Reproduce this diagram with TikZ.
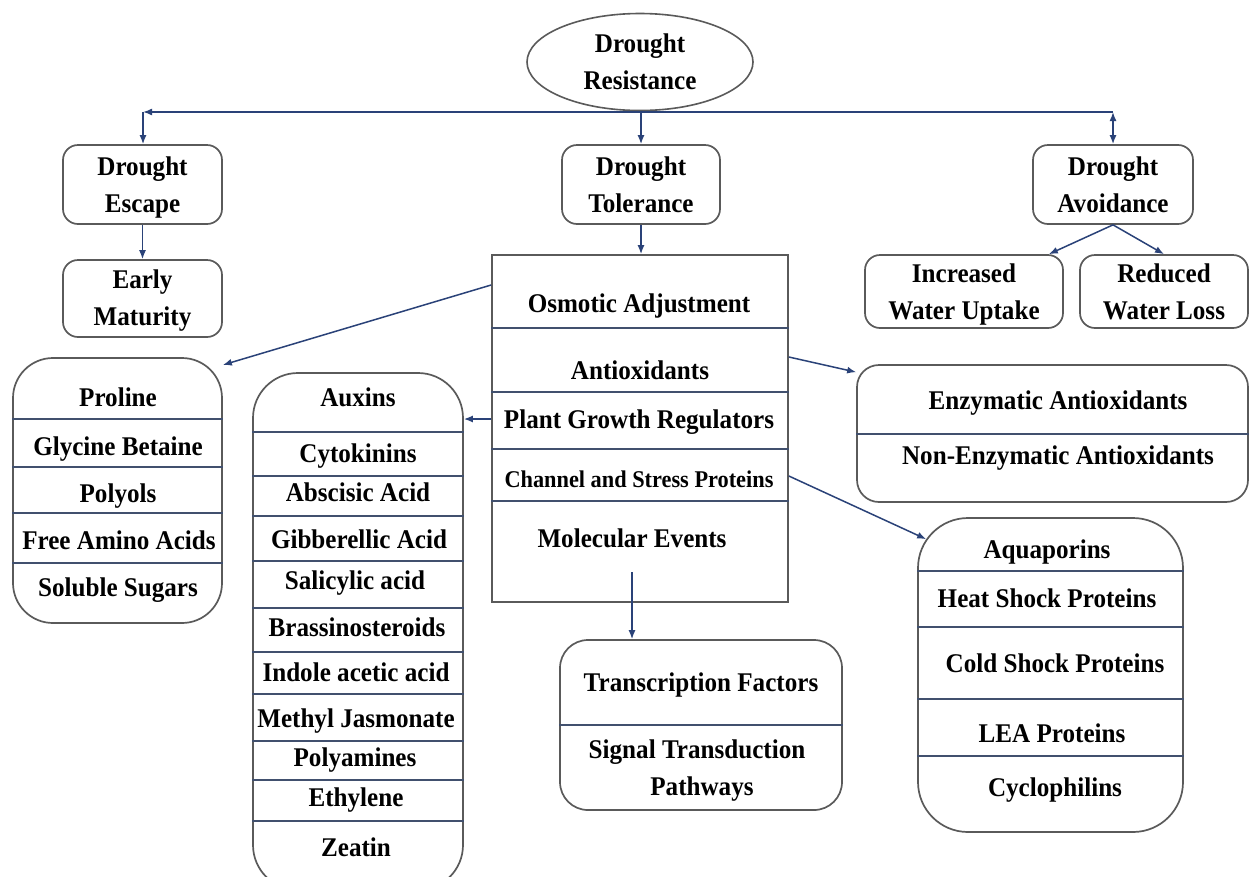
\documentclass[tikz,border=0pt]{standalone}
\usepackage{fontspec}
\setmainfont{Liberation Serif}[FakeStretch=0.93]
\usetikzlibrary{shapes.geometric,arrows.meta,calc}
\definecolor{boxc}{RGB}{90,90,90}
\definecolor{linec}{RGB}{42,66,120}
\definecolor{divc}{RGB}{65,80,110}
\tikzset{
  txt/.style={font=\fontsize{27}{37}\selectfont\bfseries, align=center, inner sep=0pt, text height=18pt, text depth=0pt},
  twotxt/.style={txt, text height=55pt},
  smalltxt/.style={txt, font=\fontsize{24}{33}\selectfont\bfseries},
  rbox/.style={draw=boxc, line width=1.7pt, rounded corners=15pt},
  framebox/.style={draw=boxc, line width=1.7pt},
  div/.style={draw=divc, line width=1.7pt},
  lin/.style={draw=linec, line width=1.5pt},
  conn/.style={lin, -{Latex[length=9pt,width=7pt]}},
  bconn/.style={lin, {Latex[length=9pt,width=7pt]}-{Latex[length=9pt,width=7pt]}}
}
\begin{document}
\begin{tikzpicture}[x=1pt,y=-1pt]
\useasboundingbox[fill=white] (0,0) rectangle (1250,876);

% top level
\node[ellipse, draw=boxc, line width=1.6pt, minimum width=226pt, minimum height=97pt, twotxt] (res) at (640,62) {Drought\\Resistance};
\node[rbox, twotxt, minimum width=159pt, minimum height=79pt] (esc) at (142.5,184.5) {Drought\\Escape};
\node[rbox, twotxt, text height=53pt, minimum width=159pt, minimum height=77pt] (mat) at (142.5,298.5) {Early\\Maturity};
\node[rbox, twotxt, minimum width=158pt, minimum height=79pt] (tol) at (641,184.5) {Drought\\Tolerance};
\node[rbox, twotxt, minimum width=160pt, minimum height=79pt] (avo) at (1113,184.5) {Drought\\Avoidance};
\node[rbox, twotxt, minimum width=198pt, minimum height=73pt] (iwu) at (964,291.5) {Increased\\Water Uptake};
\node[rbox, twotxt, minimum width=168pt, minimum height=73pt] (rwl) at (1164,291.5) {Reduced\\Water Loss};

\coordinate (hl) at (143,112);
\coordinate (hm) at (641,112);
\coordinate (hr) at (1113,112);
\draw[conn] (hm) -- (hl);
\draw[lin] (hm) -- (hr);
\draw[conn] (hl) -- (esc.north -| hl);
\draw[conn] (hm) -- (tol.north);
\draw[bconn] (hr) -- (avo.north);
\draw[conn] (esc.south) -- (mat.north);
\draw[conn] (avo.south) -- ([xshift=-15pt]iwu.north east);
\draw[conn] (avo.south) -- (rwl.north);

% central box
\node[framebox, minimum width=296pt, minimum height=347pt] (cbox) at (640,428.5) {};
\draw[conn] (tol.south) -- (cbox.north -| tol.south);
\foreach \y in {328,392,449,501}
  \draw[div] (cbox.west |- 0,\y) -- (cbox.east |- 0,\y);
\node[txt] (osm) at (639,303) {Osmotic Adjustment};
\node[txt] (anti) at (640,370) {Antioxidants};
\node[txt] (pgr) at (639,419) {Plant Growth Regulators};
\node[smalltxt] (chan) at (639,478) {Channel and Stress Proteins};
\node[txt] (mol) at (632,538) {Molecular Events};

% osmolytes
\node[framebox, rounded corners=40pt, minimum width=209pt, minimum height=265pt] (pro) at (117.5,490.5) {};
\foreach \y in {419,467,513,563}
  \draw[div] (pro.west |- 0,\y) -- (pro.east |- 0,\y);
\node[txt] (p1) at (118,397) {Proline};
\node[txt] (p2) at (118,446) {Glycine Betaine};
\node[txt] (p3) at (118,493) {Polyols};
\node[txt] (p4) at (119,540) {Free Amino Acids};
\node[txt] (p5) at (118,587) {Soluble Sugars};

% growth regulators
\node[framebox, rounded corners=45pt, minimum width=210pt, minimum height=517pt] (aux) at (358,631.5) {};
\foreach \y in {432,476,516,561,608,652,694,741,780,821}
  \draw[div] (aux.west |- 0,\y) -- (aux.east |- 0,\y);
\node[txt] (a1) at (358,397) {Auxins};
\node[txt] (a2) at (358,453) {Cytokinins};
\node[txt] (a3) at (358,492) {Abscisic Acid};
\node[txt] (a4) at (359,539) {Gibberellic Acid};
\node[txt] (a5) at (355,580) {Salicylic acid};
\node[txt] (a6) at (357,627) {Brassinosteroids};
\node[txt] (a7) at (356,672) {Indole acetic acid};
\node[txt] (a8) at (356,718) {Methyl Jasmonate};
\node[txt] (a9) at (355,757) {Polyamines};
\node[txt] (a10) at (356,797) {Ethylene};
\node[txt] (a11) at (356,847) {Zeatin};

% antioxidants
\node[rbox, rounded corners=22pt, minimum width=391pt, minimum height=137pt] (enz) at (1052.5,433.5) {};
\draw[div] (enz.west |- 0,434) -- (enz.east |- 0,434);
\node[txt] (e1) at (1058,400) {Enzymatic Antioxidants};
\node[txt] (e2) at (1058,455) {Non-Enzymatic Antioxidants};

% proteins
\node[framebox, rounded corners=50pt, minimum width=265pt, minimum height=314pt] (aqua) at (1050.5,675) {};
\foreach \y in {571,627,699,756}
  \draw[div] (aqua.west |- 0,\y) -- (aqua.east |- 0,\y);
\node[txt] (q1) at (1047,549) {Aquaporins};
\node[txt] (q2) at (1047,598) {Heat Shock Proteins};
\node[txt] (q3) at (1055,663) {Cold Shock Proteins};
\node[txt] (q4) at (1052,733) {LEA Proteins};
\node[txt] (q5) at (1055,787) {Cyclophilins};

% molecular
\node[framebox, rounded corners=28pt, minimum width=282pt, minimum height=170pt] (tf) at (701,725) {};
\draw[div] (tf.west |- 0,725) -- (tf.east |- 0,725);
\node[txt] (t1) at (701,682) {Transcription Factors};
\node[twotxt] (t2) at (697,768) {Signal Transduction\\\hspace*{10pt}Pathways};

% connectors from central box
\draw[conn] ([yshift=18pt]cbox.west |- osm.west) -- (pro.50);
\draw[conn] (cbox.west |- pgr.west) -- (aux.east |- pgr.west);
\draw[conn] ([yshift=13pt]cbox.east |- anti.east) -- ([yshift=-8pt]enz.north west);
\draw[conn] ([yshift=2pt]cbox.east |- chan.east) -- ([xshift=9pt,yshift=-22pt]aqua.north west);
\draw[conn] ([yshift=-25pt]mol.south) -- (tf.north -| mol.south);
\end{tikzpicture}
\end{document}
